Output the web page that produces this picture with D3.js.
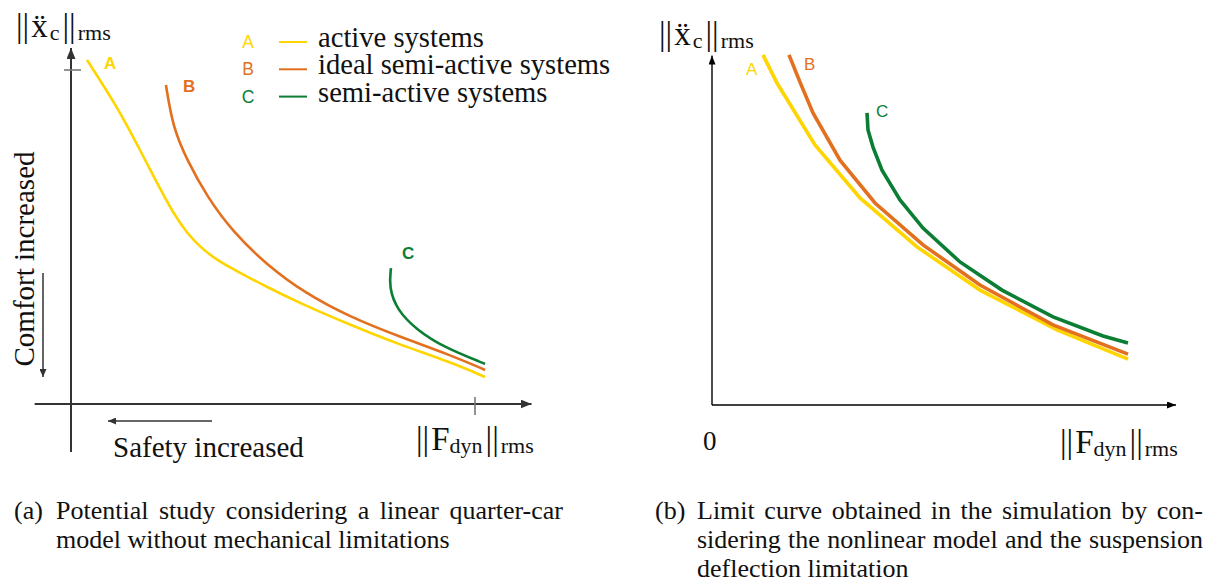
<!DOCTYPE html>
<html>
<head>
<meta charset="utf-8">
<script src="https://cdn.jsdelivr.net/npm/d3@7/dist/d3.min.js"></script>
<style>
  html, body { margin: 0; padding: 0; background: #fff; }
  svg { display: block; }
</style>
</head>
<body>
<svg id="fig" width="1215" height="587"></svg>
<script>
// ---- series identity -------------------------------------------------
const seriesKeys   = ["A", "B", "C"];
const seriesLabels = ["active systems", "ideal semi-active systems", "semi-active systems"];
const seriesColors = ["#FFD500", "#E2701F", "#0B7E33"];

// ---- (a) potential study: normalised [F_dyn, x''_c] pairs --------------
const activeIdeal = [
  [0.396, 10.30], [0.718, 9.70], [1.089, 8.98], [1.411, 8.29], [1.708, 7.60],
  [2.129, 6.62], [2.525, 5.72], [2.871, 5.12], [3.193, 4.70], [3.614, 4.31],
  [4.010, 4.04], [4.851, 3.50], [5.668, 3.02], [6.906, 2.37], [8.144, 1.77],
  [9.381, 1.26], [10.248, 0.81]
];
const idealSemiIdeal = [
  [2.35, 9.55], [2.52, 8.29], [2.87, 7.31], [3.37, 6.20], [4.01, 5.15],
  [4.85, 4.16], [5.79, 3.32], [6.91, 2.60], [8.14, 2.01], [9.38, 1.47],
  [10.25, 1.02]
];
const semiIdeal = [
  [7.92, 4.07], [7.87, 3.50], [8.07, 2.81], [8.56, 2.22], [9.21, 1.71],
  [10.25, 1.20]
];

// ---- (b) simulation limit curves ----------------------------------------
const activeSim = [
  [1.275, 10.45], [1.625, 9.61], [2.575, 7.76], [3.70, 6.18], [5.125, 4.72],
  [6.70, 3.43], [8.625, 2.24], [10.40, 1.37]
];
const idealSemiSim = [
  [1.925, 10.45], [2.20, 9.64], [2.525, 8.72], [3.20, 7.31], [4.075, 6.03],
  [5.275, 4.78], [6.70, 3.58], [8.525, 2.39], [10.40, 1.52]
];
const semiSim = [
  [3.875, 8.72], [3.90, 8.21], [4.025, 7.70], [4.25, 7.01], [4.70, 6.12],
  [5.275, 5.28], [6.20, 4.27], [7.25, 3.43], [8.525, 2.63], [9.775, 2.06],
  [10.40, 1.85]
];

// ---- axis marks / annotation text ----------------------------------------
const xTickA = [10];
const yTickA = [10];
const originLabelB = "0";
const comfortText = "Comfort increased";
const safetyText  = "Safety increased";
const captionA = ["(a)", "Potential study considering a linear quarter-car", "model without mechanical limitations"];
const captionB = ["(b)", "Limit curve obtained in the simulation by con-", "sidering the nonlinear model and the suspension", "deflection limitation"];

// -------------------------------------------------------------------------
const SERIF = "'Liberation Serif', 'Times New Roman', serif";
const SANS  = "'Liberation Sans', Arial, Helvetica, sans-serif";
const svg = d3.select("#fig");

const defs = svg.append("defs");
function marker(id, color, w, h) {
  defs.append("marker").attr("id", id)
    .attr("viewBox", `0 0 ${w} ${h}`).attr("refX", w).attr("refY", h / 2)
    .attr("markerWidth", w).attr("markerHeight", h).attr("markerUnits", "userSpaceOnUse")
    .attr("orient", "auto")
    .append("path").attr("d", `M0,0L${w},${h / 2}L0,${h}Z`).attr("fill", color);
}
marker("arrA", "#333", 11, 9);
marker("arrSmall", "#333", 8, 7);
marker("arrB", "#000", 9, 7);

// ======================= panel (a) =======================================
const xA = d3.scaleLinear().domain([0, 10]).range([71, 475]);
const yA = d3.scaleLinear().domain([0, 10]).range([404, 70]);
const gA = svg.append("g");

// axes
gA.append("line").attr("x1", xA(0)).attr("x2", xA(0)).attr("y1", yA(-1.44)).attr("y2", yA(10.66))
  .attr("stroke", "#333").attr("stroke-width", 2).attr("marker-end", "url(#arrA)");
gA.append("line").attr("x1", xA(-0.9)).attr("x2", xA(11.4)).attr("y1", yA(0)).attr("y2", yA(0))
  .attr("stroke", "#333").attr("stroke-width", 2).attr("marker-end", "url(#arrA)");
// single ticks
gA.selectAll(".yt").data(yTickA).join("line")
  .attr("x1", xA(0) - 7).attr("x2", xA(0) + 10).attr("y1", d => yA(d)).attr("y2", d => yA(d))
  .attr("stroke", "#777").attr("stroke-width", 1.6);
gA.selectAll(".xt").data(xTickA).join("line")
  .attr("x1", d => xA(d)).attr("x2", d => xA(d)).attr("y1", yA(0) - 7).attr("y2", yA(0) + 11)
  .attr("stroke", "#777").attr("stroke-width", 1.6);

// curves (smooth B-spline through the sampled points)
const lineA = d3.line().x(d => xA(d[0])).y(d => yA(d[1])).curve(d3.curveBasis);
[activeIdeal, idealSemiIdeal, semiIdeal].forEach((s, i) => {
  gA.append("path").attr("d", lineA(s)).attr("fill", "none")
    .attr("stroke", seriesColors[i]).attr("stroke-width", 2.6).attr("stroke-linecap", "butt");
});
// curve tags
const tagA = [[activeIdeal, 17, 9], [idealSemiIdeal, 17, 7], [semiIdeal, 11, -9]];
tagA.forEach(([s, dx, dy], i) => {
  gA.append("text").attr("x", xA(s[0][0]) + dx).attr("y", yA(s[0][1]) + dy)
    .attr("font-family", SANS).attr("font-weight", "bold").attr("font-size", 17)
    .attr("fill", seriesColors[i]).text(seriesKeys[i]);
});

// direction hints
gA.append("line").attr("x1", 43).attr("x2", 43).attr("y1", 273).attr("y2", 377)
  .attr("stroke", "#333").attr("stroke-width", 1.5).attr("marker-end", "url(#arrSmall)");
gA.append("line").attr("x1", 212).attr("x2", 108).attr("y1", 421).attr("y2", 421)
  .attr("stroke", "#333").attr("stroke-width", 1.5).attr("marker-end", "url(#arrSmall)");
gA.append("text").attr("transform", "translate(34,259) rotate(-90)")
  .attr("text-anchor", "middle").attr("font-family", SERIF).attr("font-size", 29)
  .attr("fill", "#111").text(comfortText);
gA.append("text").attr("x", 113).attr("y", 457)
  .attr("font-family", SERIF).attr("font-size", 29).attr("fill", "#111").text(safetyText);

// legend
const legend = gA.append("g");
seriesKeys.forEach((k, i) => {
  const yb = 47 + i * 27.3;
  legend.append("text").attr("x", 248).attr("y", yb + 1).attr("text-anchor", "middle")
    .attr("font-family", SANS).attr("font-size", 17.5).attr("fill", seriesColors[i]).text(k);
  legend.append("line").attr("x1", 279).attr("x2", 307).attr("y1", yb - 5).attr("y2", yb - 5)
    .attr("stroke", seriesColors[i]).attr("stroke-width", 2);
  legend.append("text").attr("x", 318).attr("y", yb)
    .attr("font-family", SERIF).attr("font-size", 28.6).attr("fill", "#111").text(seriesLabels[i]);
});

// ---- norm labels: ||base_sub||_rms, base optionally with a double dot ----
function normLabel(x, y, base, sub, dotted) {
  const t = svg.append("text").attr("x", x).attr("y", y)
    .attr("font-family", SERIF).attr("font-size", 33).attr("fill", "#111");
  t.append("tspan").text("||");
  t.append("tspan").attr("dx", 2).text(dotted ? base + "\u0308" : base);
  t.append("tspan").attr("font-size", 22).attr("dy", 3).attr("dx", dotted ? 2 : 0).text(sub);
  t.append("tspan").attr("dy", -3).attr("dx", 3).text("||");
  t.append("tspan").attr("font-size", 22).attr("dy", 3).attr("dx", 2).text("rms");
}
normLabel(16, 37, "x", "c", true);
normLabel(416, 450, "F", "dyn", false);

// ======================= panel (b) =======================================
const xB = d3.scaleLinear().domain([0, 10]).range([712, 1112]);
const yB = d3.scaleLinear().domain([0, 10]).range([405, 70]);
const gB = svg.append("g");

gB.append("line").attr("x1", xB(0)).attr("x2", xB(0)).attr("y1", yB(0)).attr("y2", yB(10.43))
  .attr("stroke", "#000").attr("stroke-width", 1.4).attr("marker-end", "url(#arrB)");
gB.append("line").attr("x1", xB(0)).attr("x2", xB(11.6)).attr("y1", yB(0)).attr("y2", yB(0))
  .attr("stroke", "#000").attr("stroke-width", 1.4).attr("marker-end", "url(#arrB)");

const lineB = d3.line().x(d => xB(d[0])).y(d => yB(d[1])).curve(d3.curveLinear);
[activeSim, idealSemiSim, semiSim].forEach((s, i) => {
  gB.append("path").attr("d", lineB(s)).attr("fill", "none")
    .attr("stroke", seriesColors[i]).attr("stroke-width", 3.6)
    .attr("stroke-linejoin", "miter").attr("stroke-linecap", "butt");
});
const tagB = [[activeSim, -17, 20], [idealSemiSim, 15, 15], [semiSim, 9, 4]];
tagB.forEach(([s, dx, dy], i) => {
  gB.append("text").attr("x", xB(s[0][0]) + dx).attr("y", yB(s[0][1]) + dy)
    .attr("font-family", SANS).attr("font-size", 17)
    .attr("fill", seriesColors[i]).text(seriesKeys[i]);
});

gB.append("text").attr("x", 703).attr("y", 450)
  .attr("font-family", SERIF).attr("font-size", 27).attr("fill", "#111").text(originLabelB);
normLabel(659, 45, "x", "c", true);
normLabel(1060, 453, "F", "dyn", false);

// ======================= captions ========================================
function measure(str, size) {
  const t = svg.append("text").attr("font-family", SERIF).attr("font-size", size).text(str);
  const w = t.node().getComputedTextLength();
  t.remove();
  return w;
}
function justified(str, x0, x1, y, size) {
  const words = str.split(" ");
  const widths = words.map(w => measure(w, size));
  const gap = (x1 - x0 - d3.sum(widths)) / (words.length - 1);
  const t = svg.append("text").attr("y", y).attr("font-family", SERIF)
    .attr("font-size", size).attr("fill", "#111");
  let cx = x0;
  words.forEach((w, i) => { t.append("tspan").attr("x", cx).text(w); cx += widths[i] + gap; });
}
function plain(str, x, y, size) {
  svg.append("text").attr("x", x).attr("y", y).attr("font-family", SERIF)
    .attr("font-size", size).attr("fill", "#111").text(str);
}
const CAP = 26;
plain(captionA[0], 14, 519, CAP);
justified(captionA[1], 56, 563, 519, CAP);
plain(captionA[2], 56, 548, CAP);

plain(captionB[0], 655, 519, CAP);
justified(captionB[1], 697, 1203, 519, CAP);
justified(captionB[2], 697, 1203, 548, CAP);
plain(captionB[3], 697, 577, CAP);
</script>
</body>
</html>
